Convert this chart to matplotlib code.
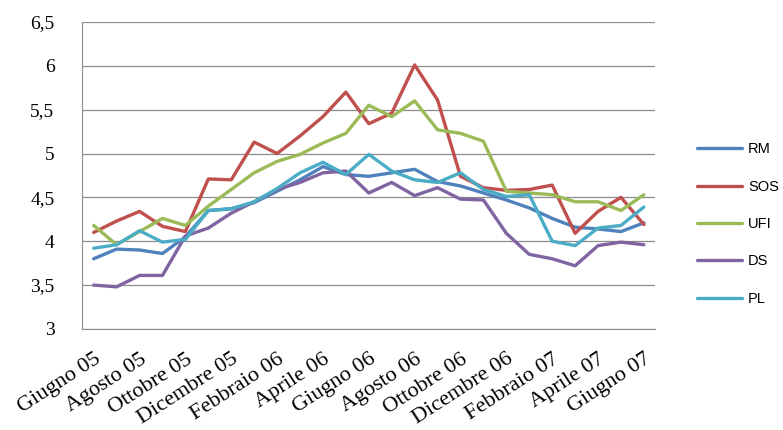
import matplotlib
matplotlib.use("Agg")
import matplotlib.pyplot as plt
import numpy as np

MONTHS = ["Giugno 05", "Luglio 05", "Agosto 05", "Settembre 05", "Ottobre 05",
          "Novembre 05", "Dicembre 05", "Gennaio 06", "Febbraio 06", "Marzo 06",
          "Aprile 06", "Maggio 06", "Giugno 06", "Luglio 06", "Agosto 06",
          "Settembre 06", "Ottobre 06", "Novembre 06", "Dicembre 06", "Gennaio 07",
          "Febbraio 07", "Marzo 07", "Aprile 07", "Maggio 07", "Giugno 07"]

RM = [3.80, 3.91, 3.90, 3.86, 4.05, 4.35, 4.37, 4.44, 4.57, 4.70, 4.85, 4.76, 4.74,
      4.78, 4.82, 4.68, 4.63, 4.55, 4.47, 4.38, 4.26, 4.16, 4.14, 4.11, 4.21]
SOS = [4.10, 4.23, 4.34, 4.17, 4.11, 4.71, 4.70, 5.13, 5.00, 5.20, 5.42, 5.70, 5.34,
       5.46, 6.01, 5.61, 4.74, 4.61, 4.58, 4.59, 4.64, 4.09, 4.34, 4.50, 4.19]
UFI = [4.18, 3.96, 4.11, 4.26, 4.18, 4.40, 4.59, 4.78, 4.91, 4.99, 5.12, 5.23, 5.55,
       5.42, 5.60, 5.27, 5.23, 5.14, 4.57, 4.55, 4.53, 4.45, 4.45, 4.35, 4.53]
DS = [3.50, 3.48, 3.61, 3.61, 4.06, 4.15, 4.32, 4.45, 4.59, 4.67, 4.78, 4.80, 4.55,
      4.67, 4.52, 4.61, 4.48, 4.47, 4.09, 3.85, 3.80, 3.72, 3.95, 3.99, 3.96]
PL = [3.92, 3.96, 4.12, 3.99, 4.02, 4.35, 4.37, 4.45, 4.60, 4.78, 4.90, 4.76, 4.99,
      4.80, 4.70, 4.67, 4.78, 4.59, 4.51, 4.53, 4.00, 3.95, 4.15, 4.18, 4.39]

SERIES = [("RM", RM, "#4F81BD"), ("SOS", SOS, "#C0504D"), ("UFI", UFI, "#9BBB59"),
          ("DS", DS, "#8064A2"), ("PL", PL, "#4BACC6")]

YTICKS = [3, 3.5, 4, 4.5, 5, 5.5, 6, 6.5]
YTICK_LABELS = ["3", "3,5", "4", "4,5", "5", "5,5", "6", "6,5"]

fig = plt.figure(figsize=(7.83, 4.30), dpi=100)
ax = fig.add_axes([0.105, 0.235, 0.732, 0.714])

x = np.arange(len(MONTHS))
for name, vals, color in SERIES:
    ax.plot(x, vals, color=color, linewidth=2.4, label=name, solid_capstyle="round")

ax.set_xlim(-0.5, len(MONTHS) - 0.5)
ax.set_ylim(3, 6.5)
ax.set_yticks(YTICKS)
ax.set_yticklabels(YTICK_LABELS, fontfamily="Liberation Serif", fontsize=14)
ax.yaxis.grid(True, color="#8c8c8c", linewidth=0.9)
ax.set_axisbelow(True)
ax.tick_params(axis="y", length=0, pad=20)

ax.set_xticks(x[::2])
ax.set_xticklabels(MONTHS[::2], rotation=33, ha="right", rotation_mode="anchor",
                   fontfamily="Liberation Serif", fontsize=16)
ax.tick_params(axis="x", length=0, pad=15)

for s in ("top", "right"):
    ax.spines[s].set_visible(False)
ax.spines["left"].set_color("#8c8c8c")
ax.spines["bottom"].set_color("#8c8c8c")

fig.legend(*ax.get_legend_handles_labels(), loc="center left",
           bbox_to_anchor=(0.890, 0.479), bbox_transform=fig.transFigure,
           frameon=False, prop={"family": "Liberation Sans", "size": 10.5},
           borderpad=0, borderaxespad=0,
           handlelength=3.1, handletextpad=0.4, labelspacing=1.6)

fig.savefig("out.png", dpi=100)
